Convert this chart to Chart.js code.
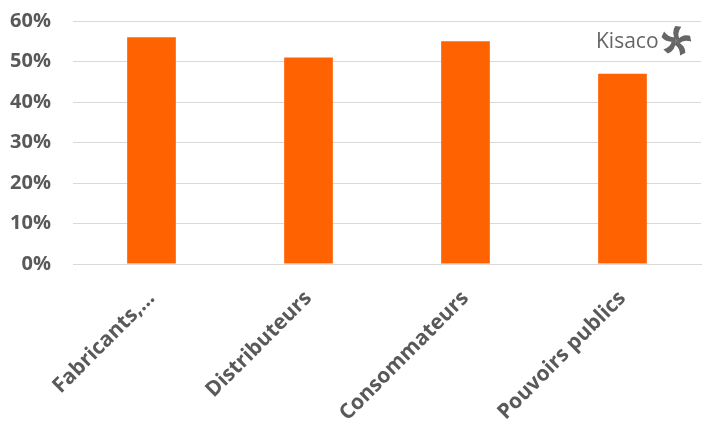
<!DOCTYPE html>
<html>
<head>
<meta charset="utf-8">
<script src="https://cdn.jsdelivr.net/npm/chart.js@4"></script>
<style>
  html, body { margin: 0; padding: 0; background: #fff; }
  #wrap { width: 716px; height: 442px; }
</style>
</head>
<body>
<div id="wrap"><canvas id="chart"></canvas></div>
<script>
// data
const categories = ["Fabricants,…", "Distributeurs", "Consommateurs", "Pouvoirs publics"];
const shares = [56, 51, 55, 47];
const yTicks = [0, 10, 20, 30, 40, 50, 60];

const orange = "#ff6200";
const grey = "#595959";

// small logo in the top-right corner
const logoPlugin = {
  id: "logo",
  afterDraw(chart) {
    const ctx = chart.ctx;
    ctx.save();
    ctx.fillStyle = "#666666";
    ctx.font = "21px 'Open Sans', sans-serif";
    ctx.textBaseline = "alphabetic";
    ctx.textAlign = "left";
    ctx.fillText("Kisaco", 596, 48);

    // pinwheel icon
    const cx = 676, cy = 41, r = 15;
    for (let i = 0; i < 5; i++) {
      const a = (i * 2 * Math.PI) / 5 - Math.PI / 2;
      ctx.save();
      ctx.translate(cx, cy);
      ctx.rotate(a);
      ctx.beginPath();
      ctx.moveTo(0, 0);
      ctx.quadraticCurveTo(r * 0.55, -r * 0.35, r, -r * 0.05);
      ctx.lineTo(r * 0.95, r * 0.35);
      ctx.quadraticCurveTo(r * 0.5, r * 0.05, r * 0.18, r * 0.22);
      ctx.closePath();
      ctx.fill();
      ctx.restore();
    }
    ctx.restore();
  }
};

new Chart(document.getElementById("chart"), {
  type: "bar",
  data: {
    labels: categories,
    datasets: [{
      data: shares,
      backgroundColor: orange,
      barPercentage: 0.31,
      categoryPercentage: 1.0
    }]
  },
  options: {
    responsive: true,
    maintainAspectRatio: false,
    animation: false,
    layout: { padding: { top: 21, right: 15, left: 0, bottom: 0 } },
    plugins: { legend: { display: false }, tooltip: { enabled: false } },
    scales: {
      x: {
        grid: { display: false, drawTicks: false },
        border: { color: "#d9d9d9" },
        ticks: {
          color: grey,
          font: { family: "'Open Sans', sans-serif", size: 21, weight: "bold" },
          minRotation: 45,
          maxRotation: 45,
          autoSkip: false,
          padding: 22
        },
        afterFit(scale) { scale.height = 178; }
      },
      y: {
        min: 0,
        max: 60,
        afterBuildTicks(scale) { scale.ticks = yTicks.map(v => ({ value: v })); },
        grid: { color: "#d9d9d9", drawTicks: false },
        border: { display: false },
        ticks: {
          color: grey,
          font: { family: "'Open Sans', sans-serif", size: 20, weight: "bold" },
          padding: 22,
          callback: v => v + "%"
        },
        afterFit(scale) {
          scale.width = 73;
          scale.paddingTop = 0;
          scale.paddingBottom = 0;
        }
      }
    }
  },
  plugins: [logoPlugin]
});
</script>
</body>
</html>
